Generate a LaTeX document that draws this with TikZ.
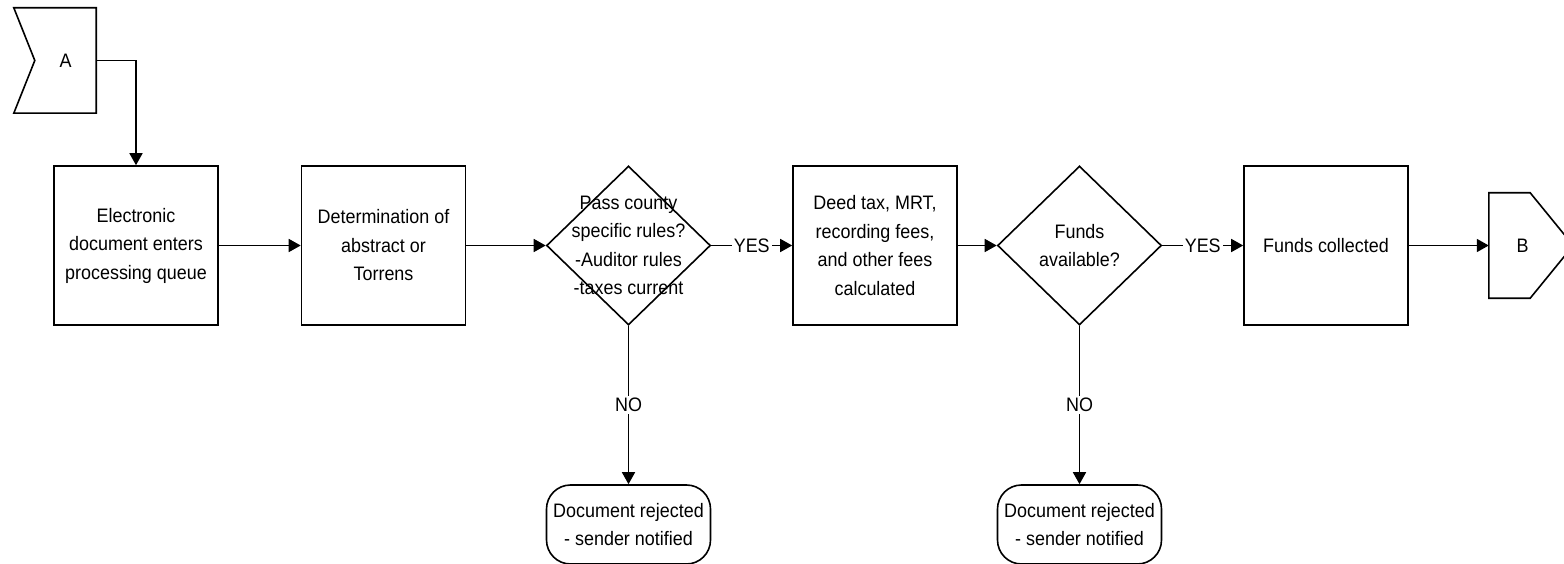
\documentclass[tikz,border=0pt]{standalone}
\usepackage{fontspec}
\setmainfont{Liberation Sans}[FakeStretch=0.92]
\usepackage{tikz}
\usetikzlibrary{shapes.geometric, arrows.meta, calc}

\begin{document}
\begin{tikzpicture}[x=1pt, y=-1pt,
        font=\fontsize{19.5}{28.5}\selectfont,
        task/.style     = {rectangle, draw, line width=1.6pt, minimum width=164pt, minimum height=159pt, align=center, inner sep=2pt},
        decision/.style = {diamond, draw, line width=1.6pt, minimum width=164pt, minimum height=159pt, inner sep=0pt},
        reject/.style   = {rectangle, draw, line width=1.6pt, rounded corners=24pt, minimum width=164pt, minimum height=79pt, align=center, inner sep=0pt},
        offpage/.style  = {rectangle, inner sep=0pt, minimum height=105pt},
        outline/.style  = {draw, line width=1.6pt},
        flow/.style     = {draw, line width=1.6pt, -{Triangle[length=12pt, width=13pt]}},
        answer/.style   = {fill=white, inner sep=2pt}
    ]
    \useasboundingbox (0,0) rectangle (1564,564);

    % --- off-page connectors ---
    \node[offpage, minimum width=61pt] (offA) at (65.5, 60.5) {A};
    \draw[outline] ($(offA.north west)+(-21,0)$) -- (offA.north east) -- (offA.south east)
        -- ($(offA.south west)+(-21,0)$) -- (offA.west) -- cycle;

    \node[offpage, minimum width=67pt] (offB) at (1522.5, 245.5) {B};
    \draw[outline] (offB.north west) -- ($(offB.north east)+(-26,0)$) -- ($(offB.east)+(17,0)$)
        -- ($(offB.south east)+(-26,0)$) -- (offB.south west) -- cycle;

    % --- main row ---
    \node[task] (entry)     at (136, 245.5)   {Electronic\\document enters\\processing queue};
    \node[task] (trackType) at (383.5, 245.5) {Determination of\\abstract or\\Torrens};
    \node[decision, label={[align=center]center:Pass county\\specific rules?\\-Auditor rules\\-taxes current}] (countyRules) at (628.5, 245.5) {};
    \node[task] (feesCalc)  at (875, 245.5)   {Deed tax, MRT,\\recording fees,\\and other fees\\calculated};
    \node[decision, label={[align=center]center:Funds\\available?}] (fundsOk) at (1079.5, 245.5) {};
    \node[task] (fundsDone) at (1326, 245.5)  {Funds collected};

    % --- rejections ---
    \node[reject] (rejectA) at (628.5, 524.5) {Document rejected\\- sender notified};
    \node[reject] (rejectB) at (1079.5, 524.5) {Document rejected\\- sender notified};

    % --- flow ---
    \draw[flow] (offA.east) -| (entry.north);
    \draw[flow] (entry.east) -- (trackType.west);
    \draw[flow] (trackType.east) -- (countyRules.west);
    \draw[flow] (countyRules.east) -- node[answer] {YES} (feesCalc.west);
    \draw[flow] (countyRules.south) -- node[answer] {NO} (rejectA.north);
    \draw[flow] (feesCalc.east) -- (fundsOk.west);
    \draw[flow] (fundsOk.east) -- node[answer] {YES} (fundsDone.west);
    \draw[flow] (fundsOk.south) -- node[answer] {NO} (rejectB.north);
    \draw[flow] (fundsDone.east) -- (offB.west);

\end{tikzpicture}
\end{document}
